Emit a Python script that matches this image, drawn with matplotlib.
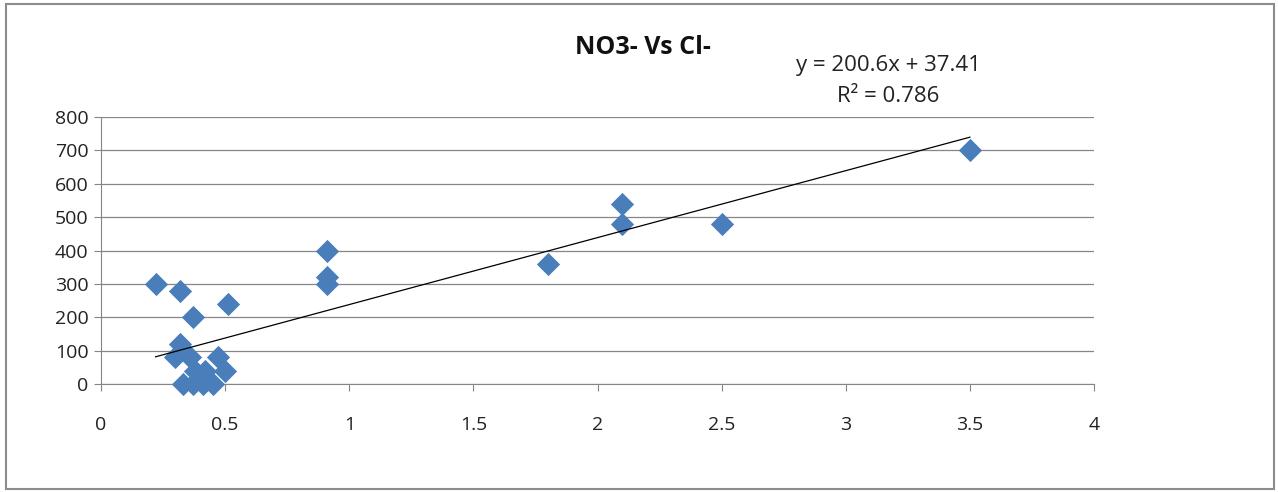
import matplotlib
matplotlib.use('Agg')
import matplotlib.pyplot as plt
import numpy as np

# Cl- (x) and NO3- (y) readings
cl = [0.22, 0.32, 0.37, 0.51, 0.32, 0.3, 0.36, 0.47, 0.5, 0.38, 0.42,
      0.33, 0.37, 0.41, 0.45, 0.91, 0.91, 0.91, 1.8, 2.1, 2.1, 2.5, 3.5]
no3 = [300, 280, 200, 240, 120, 80, 80, 80, 40, 40, 40,
       0, 0, 0, 0, 400, 320, 300, 360, 540, 480, 480, 700]

slope = 200.6
intercept = 37.41
r2 = 0.786

xticks = [0, 0.5, 1, 1.5, 2, 2.5, 3, 3.5, 4]
xticklabels = ['0', '0.5', '1', '1.5', '2', '2.5', '3', '3.5', '4']
yticks = [0, 100, 200, 300, 400, 500, 600, 700, 800]

plt.rcParams['font.family'] = ['Open Sans', 'DejaVu Sans']

fig = plt.figure(figsize=(12.78, 4.92), dpi=100)
ax = fig.add_axes([101 / 1278, 1 - 384 / 492, (1094 - 101) / 1278, (384 - 117) / 492])

# outer chart frame
frame = plt.Rectangle((6 / 1278, 3 / 492), 1 - 10 / 1278, 1 - 7 / 492,
                      transform=fig.transFigure, fill=False,
                      edgecolor='#8c8c8c', linewidth=1.5)
fig.patches.append(frame)

ax.scatter(cl, no3, marker='D', s=140, color='#4a7ebb', zorder=3,
           linewidths=0, clip_on=False)

xl = np.array([min(cl), max(cl)])
ax.plot(xl, slope * xl + intercept, color='black', linewidth=0.9, zorder=4)

ax.set_xlim(0, 4)
ax.set_ylim(0, 800)
ax.set_xticks(xticks)
ax.set_xticklabels(xticklabels)
ax.set_yticks(yticks)
ax.yaxis.grid(True, color='#868686', linewidth=0.9)
ax.set_axisbelow(True)
for side in ['top', 'right']:
    ax.spines[side].set_visible(False)
for side in ['left', 'bottom']:
    ax.spines[side].set_color('#868686')
ax.tick_params(axis='both', colors='#868686', labelcolor='#222222',
               labelsize=14, length=5, direction='out')
ax.tick_params(axis='y', pad=4)
ax.tick_params(axis='x', pad=18)

fig.text(643 / 1278, 1 - 48 / 492, 'NO3- Vs Cl-', ha='center', va='center',
         fontsize=18, fontweight='bold', color='#111111')
fig.text(888 / 1278, 1 - 65 / 492, 'y = %.1fx + %.2f' % (slope, intercept),
         ha='center', va='center', fontsize=16, color='#222222')
fig.text(888 / 1278, 1 - 96 / 492, 'R\u00b2 = %.3f' % r2,
         ha='center', va='center', fontsize=16, color='#222222')

fig.savefig('out.png', dpi=100)
